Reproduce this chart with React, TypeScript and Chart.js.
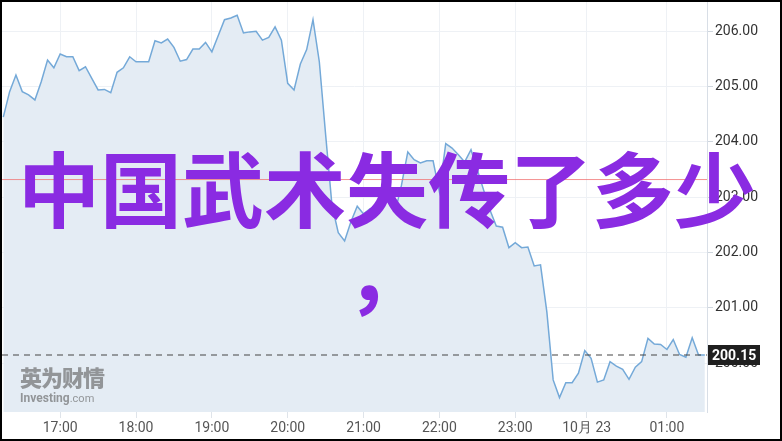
import React, { useEffect, useRef } from 'react';
import { Chart, registerables } from 'chart.js';

Chart.register(...registerables);

const times = [
  '16:15','16:20','16:25','16:30','16:35','16:40','16:45','16:50','16:55',
  '17:00','17:05','17:10','17:15','17:20','17:25','17:30','17:35','17:40','17:45','17:50','17:55',
  '18:00','18:05','18:10','18:15','18:20','18:25','18:30','18:35','18:40','18:45','18:50','18:55',
  '19:00','19:05','19:10','19:15','19:20','19:25','19:30','19:35','19:40','19:45','19:50','19:55',
  '20:00','20:05','20:10','20:15','20:20','20:25','20:30','20:35','20:40','20:45','20:50','20:55',
  '21:00','21:05','21:10','21:15','21:20','21:25','21:30','21:35','21:40','21:45','21:50','21:55',
  '22:00','22:05','22:10','22:15','22:20','22:25','22:30','22:35','22:40','22:45','22:50','22:55',
  '23:00','23:05','23:10','23:15','23:20','23:25','23:30','23:35','23:40','23:45','23:50','23:55',
  '00:00','00:05','00:10','00:15','00:20','00:25','00:30','00:35','00:40','00:45','00:50','00:55',
  '01:00','01:05','01:10','01:15','01:20','01:25','01:30'
];

const prices = [
  204.45, 204.91, 205.21, 204.91, 204.85, 204.76, 205.09, 205.48, 205.34, 205.59,
  205.54, 205.54, 205.29, 205.36, 205.15, 204.94, 204.95, 204.89, 205.26, 205.34,
  205.54, 205.45, 205.45, 205.45, 205.83, 205.79, 205.86, 205.71, 205.46, 205.49,
  205.68, 205.68, 205.80, 205.63, 205.92, 206.21, 206.24, 206.29, 205.97, 205.99,
  206.00, 205.84, 205.89, 206.08, 205.84, 205.06, 204.94, 205.41, 205.67, 206.21,
  205.45, 204.13, 202.86, 202.36, 202.21, 202.56, 202.84, 202.70, 202.79, 202.84,
  202.90, 202.95, 202.74, 203.22, 203.82, 203.68, 203.62, 203.66, 203.66, 203.10,
  203.97, 203.89, 203.77, 203.64, 203.86, 203.50, 203.13, 202.77, 202.48, 202.46,
  202.09, 202.18, 202.09, 202.10, 201.76, 201.78, 200.93, 199.70, 199.38, 199.65,
  199.65, 199.82, 200.23, 200.09, 199.66, 199.70, 200.03, 199.95, 199.89, 199.71,
  199.93, 200.03, 200.45, 200.35, 200.34, 200.25, 200.43, 200.16, 200.11, 200.46,
  200.15, 200.15
];

const xTickPositions = [9, 21, 33, 45, 57, 69, 81, 92.3, 105];
const xTickLabels = ['17:00', '18:00', '19:00', '20:00', '21:00', '22:00', '23:00', '10月 23', '01:00'];
const yTickValues = [200, 201, 202, 203, 204, 205, 206];
const referenceLevel = 203.33;
const lastPrice = 200.15;
const overlayTitle = '中国武术失传了多少';
const overlayTail = '，';
const watermarkCn = '英为财情';
const watermarkEn = 'Investing';
const watermarkDomain = '.com';

const overlayPlugin = {
  id: 'overlayLines',
  afterDatasetsDraw(chart: any) {
    const { ctx, chartArea, scales } = chart;
    const py = scales.y.getPixelForValue(referenceLevel);
    ctx.save();
    ctx.strokeStyle = 'rgba(240,110,110,0.75)';
    ctx.lineWidth = 1;
    ctx.beginPath();
    ctx.moveTo(chartArea.left, py + 0.5);
    ctx.lineTo(chartArea.right, py + 0.5);
    ctx.stroke();
    ctx.restore();
  },
  afterDraw(chart: any) {
    const { ctx, chartArea, scales } = chart;
    const py = scales.y.getPixelForValue(lastPrice);
    ctx.save();
    ctx.setLineDash([6, 5]);
    ctx.strokeStyle = '#444';
    ctx.lineWidth = 1.2;
    ctx.beginPath();
    ctx.moveTo(chartArea.left, py);
    ctx.lineTo(chartArea.right, py);
    ctx.stroke();
    ctx.setLineDash([]);
    ctx.fillStyle = '#1f1f1f';
    ctx.fillRect(chartArea.right + 1, py - 10, 52, 20);
    ctx.fillStyle = '#ffffff';
    ctx.font = 'bold 14px Roboto';
    ctx.textBaseline = 'middle';
    ctx.textAlign = 'left';
    ctx.fillText(lastPrice.toFixed(2), chartArea.right + 5, py + 1);
    ctx.restore();
  },
};

export default function App() {
  const canvasRef = useRef<HTMLCanvasElement | null>(null);

  useEffect(() => {
    if (!canvasRef.current) return;
    const chart = new Chart(canvasRef.current, {
      type: 'line',
      data: {
        datasets: [
          {
            data: prices.map((p, i) => ({ x: i, y: p })),
            borderColor: '#74a9d8',
            borderWidth: 1.5,
            backgroundColor: '#e4ecf4',
            fill: 'start',
            pointRadius: 0,
            tension: 0,
          },
        ],
      },
      options: {
        animation: false,
        responsive: true,
        maintainAspectRatio: false,
        layout: { padding: 0 },
        plugins: {
          legend: { display: false },
          tooltip: { enabled: false },
        },
        scales: {
          x: {
            type: 'linear',
            min: -0.206,
            max: 111.34,
            afterBuildTicks: (s: any) => {
              s.ticks = xTickPositions.map((v) => ({ value: v }));
            },
            afterFit: (s: any) => {
              s.height = 27;
              s.paddingLeft = 0;
              s.paddingRight = 0;
            },
            grid: { color: '#eef1f5', tickLength: 6, tickColor: '#dfe4ea' },
            border: { display: false },
            ticks: {
              color: '#555',
              font: { family: 'Roboto', size: 14 },
              padding: 2,
              maxRotation: 0,
              autoSkip: false,
              callback: (_v: any, i: number) => xTickLabels[i],
            },
          },
          y: {
            position: 'right',
            min: 199.12,
            max: 206.53,
            afterBuildTicks: (s: any) => {
              s.ticks = yTickValues.map((v) => ({ value: v }));
            },
            afterFit: (s: any) => {
              s.width = 73;
              s.paddingTop = 0;
              s.paddingBottom = 0;
            },
            grid: { color: '#eef1f5', tickLength: 6, tickColor: '#cfd6de' },
            border: { display: true, color: '#d8dee6' },
            ticks: {
              color: '#333',
              font: { family: 'Roboto', size: 14 },
              padding: 2,
              callback: (v: any) => Number(v).toFixed(2),
            },
          },
        },
      },
      plugins: [overlayPlugin],
    });
    return () => chart.destroy();
  }, []);

  return (
    <div
      style={{
        position: 'fixed',
        left: 0,
        top: 0,
        width: 782,
        height: 441,
        boxSizing: 'border-box',
        border: '2px solid #000',
        background: '#fff',
        overflow: 'hidden',
      }}
    >
      <div style={{ position: 'absolute', left: 0, top: 0, width: 778, height: 437 }}>
        <canvas ref={canvasRef} />
      </div>
      <div
        style={{
          position: 'absolute',
          left: 18,
          top: 363,
          fontFamily: '"Noto Sans CJK SC", sans-serif',
          color: 'rgba(95,95,95,0.62)',
          pointerEvents: 'none',
          lineHeight: 1,
        }}
      >
        <div style={{ fontSize: 22, fontWeight: 900, letterSpacing: -1 }}>{watermarkCn}</div>
        <div style={{ fontFamily: 'Roboto, sans-serif', marginTop: 2 }}>
          <span style={{ fontSize: 12, fontWeight: 700 }}>{watermarkEn}</span>
          <span style={{ fontSize: 11, fontWeight: 400 }}>{watermarkDomain}</span>
        </div>
      </div>
      <div
        style={{
          position: 'absolute',
          left: 0,
          top: 142,
          width: 770,
          textAlign: 'center',
          fontFamily: '"Noto Sans CJK SC", sans-serif',
          fontWeight: 700,
          fontSize: 82,
          lineHeight: '84px',
          color: '#8a2be2',
          pointerEvents: 'none',
          whiteSpace: 'nowrap',
        }}
      >
        <div>{overlayTitle}</div>
        <div>{overlayTail}</div>
      </div>
    </div>
  );
}
